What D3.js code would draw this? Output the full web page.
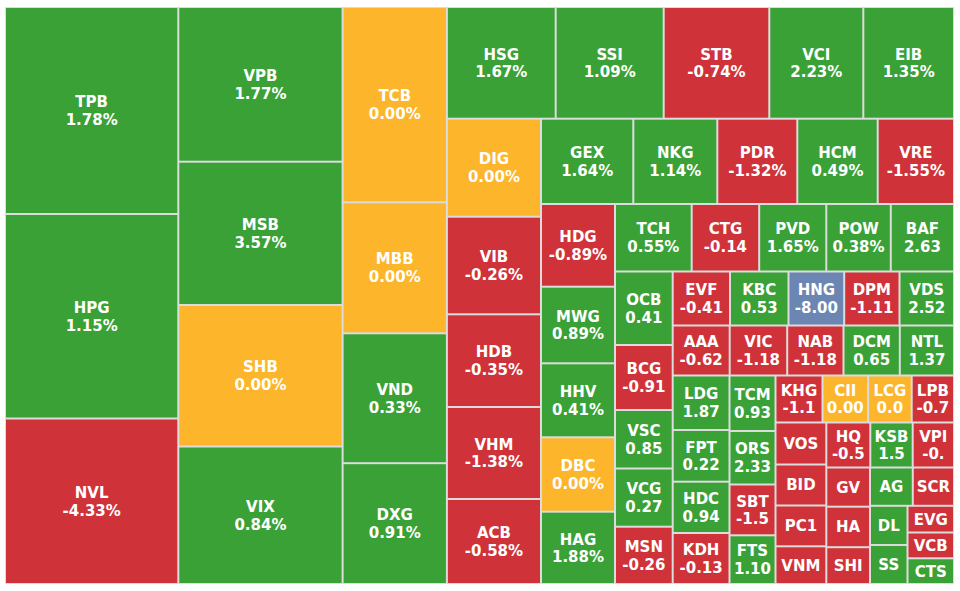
<!DOCTYPE html>
<html>
<head>
<meta charset="utf-8">
<script src="https://cdn.jsdelivr.net/npm/d3@7"></script>
<style>
  html, body { margin: 0; padding: 0; background: #ffffff; }
  svg { display: block; }
  text { font-family: "DejaVu Sans", Verdana, sans-serif; font-weight: bold; font-size: 15px; fill: #ffffff; }
</style>
</head>
<body>
<svg id="chart" width="960" height="591"></svg>
<script>
// ---- data ----
const tickers = ["TPB","HPG","NVL","VPB","MSB","SHB","VIX","TCB","MBB","VND","DXG",
  "HSG","SSI","STB","VCI","EIB","DIG","VIB","HDB","VHM","ACB",
  "GEX","NKG","PDR","HCM","VRE","HDG","MWG","HHV","DBC","HAG",
  "TCH","CTG","PVD","POW","BAF","OCB","BCG","VSC","VCG","MSN",
  "EVF","KBC","HNG","DPM","VDS","AAA","VIC","NAB","DCM","NTL",
  "LDG","FPT","HDC","KDH","TCM","ORS","SBT","FTS",
  "KHG","CII","LCG","LPB","VOS","BID","PC1","VNM",
  "HQ","KSB","VPI","GV","HA","SHI","AG","SCR","DL","SS","EVG","VCB","CTS"];

// traded value weight of each ticker (relative)
const weights = [35873,35440,28681,25417,23544,23248,22591,20370,13663,13549,12600,
  12153,12064,11796,10500,10131,9222,9184,8723,8657,7999,
  7873,7165,6824,6858,6508,6120,5668,5476,5506,5350,
  5177,4556,4529,4354,4266,4241,3751,3375,3358,3306,
  3094,3159,3008,2986,2943,2850,2875,2815,2815,2710,
  3096,2937,2914,2897,2553,2461,2337,2240,
  2209,2143,2049,1988,2134,2083,2073,1915,
  1980,1908,1859,1713,1770,1608,1639,1578,1470,1463,1242,1200,1195];

// price change in percent
const changes = [1.78,1.15,-4.33,1.77,3.57,0.00,0.84,0.00,0.00,0.33,0.91,
  1.67,1.09,-0.74,2.23,1.35,0.00,-0.26,-0.35,-1.38,-0.58,
  1.64,1.14,-1.32,0.49,-1.55,-0.89,0.89,0.41,0.00,1.88,
  0.55,-0.14,1.65,0.38,2.63,0.41,-0.91,0.85,0.27,-0.26,
  -0.41,0.53,-8.00,-1.11,2.52,-0.62,-1.18,-1.18,0.65,1.37,
  1.87,0.22,0.94,-0.13,0.93,2.33,-1.52,1.10,
  -1.12,0.00,0.00,-0.71,-1.21,-0.52,-0.83,-0.34,
  -0.54,1.53,-0.42,-0.61,-0.97,-0.88,0.62,-0.45,0.51,0.73,-0.69,-0.23,0.44];

// row topology kept from the previous (resquarify) layout
const layoutRows = [
  ["TPB","HPG","NVL"], ["VPB","MSB","SHB","VIX"], ["TCB","MBB","VND","DXG"],
  ["HSG","SSI","STB","VCI","EIB"], ["DIG","VIB","HDB","VHM","ACB"],
  ["GEX","NKG","PDR","HCM","VRE"], ["HDG","MWG","HHV","DBC","HAG"],
  ["TCH","CTG","PVD","POW","BAF"], ["OCB","BCG","VSC","VCG","MSN"],
  ["EVF","KBC","HNG","DPM","VDS"], ["AAA","VIC","NAB","DCM","NTL"],
  ["LDG","FPT","HDC","KDH"], ["TCM","ORS","SBT","FTS"],
  ["KHG","CII","LCG","LPB"], ["VOS","BID","PC1","VNM"],
  ["HQ","KSB","VPI"], ["GV","HA","SHI"], ["AG","SCR"], ["DL","SS"], ["EVG","VCB","CTS"]];
const rowDice = [false,false,false,true,false,true,false,true,false,true,true,
  false,false,true,false,true,false,true,false,false];

// ---- layout ----
const margin = {left: 5, top: 7};
const W = 949, H = 577;
const FONT = 15, PAD = 7.8, TWO_LINE_MIN = 43.5;

const color = v => v <= -6.9 ? "#6b86b2" : v < 0 ? "#d03239" : v > 0 ? "#3aa137" : "#fdb52b";

const root = d3.hierarchy({children: tickers.map((t, i) => ({ticker: t, weight: weights[i], change: changes[i]}))})
  .sum(d => d.weight || 0);

const byTicker = new Map(root.children.map(n => [n.data.ticker, n]));
const rows = layoutRows.map((g, i) => ({dice: rowDice[i], value: 0, children: g.map(t => byTicker.get(t))}));
rows.ratio = 1;
root._squarify = rows;

d3.treemap().tile(d3.treemapResquarify.ratio(1)).size([W, H])(root);

// glyph advance estimates (em) used to decide how much of the value fits
const adv = c => /[0-9]/.test(c) ? 0.712 : c === "." ? 0.364 : c === "-" ? 0.478 : c === "%" ? 1.271 : 0.75;
const textW = s => Array.from(s).reduce((a, c) => a + adv(c), 0) * FONT;
function valueLabel(v, avail) {
  const full = v.toFixed(2) + "%";
  if (textW(full) <= avail) return full;
  let s = v.toFixed(2);
  while (s.length && textW(s) > avail) s = s.slice(0, -1);
  return s;
}

const svg = d3.select("#chart");
const g = svg.append("g").attr("transform", `translate(${margin.left},${margin.top})`);

g.append("rect").attr("x", 0).attr("y", 0).attr("width", W).attr("height", H).attr("fill", "#dcdcdc");

const cell = g.selectAll("g.cell").data(root.leaves()).join("g").attr("class", "cell");

cell.append("rect")
  .attr("x", d => d.x0 + 1)
  .attr("y", d => d.y0 + 1)
  .attr("width", d => Math.max(0, d.x1 - d.x0 - 2))
  .attr("height", d => Math.max(0, d.y1 - d.y0 - 2))
  .attr("fill", d => color(d.data.change));

cell.each(function(d) {
  const c = d3.select(this);
  const w = d.x1 - d.x0, h = d.y1 - d.y0;
  const cx = (d.x0 + d.x1) / 2, cy = (d.y0 + d.y1) / 2;
  if (h >= TWO_LINE_MIN) {
    c.append("text").attr("x", cx).attr("y", cy - 3.3).attr("text-anchor", "middle").text(d.data.ticker);
    c.append("text").attr("x", cx).attr("y", cy + 14.4).attr("text-anchor", "middle")
      .text(valueLabel(d.data.change, w - PAD));
  } else {
    c.append("text").attr("x", cx).attr("y", cy + 5.5).attr("text-anchor", "middle").text(d.data.ticker);
  }
});
</script>
</body>
</html>
